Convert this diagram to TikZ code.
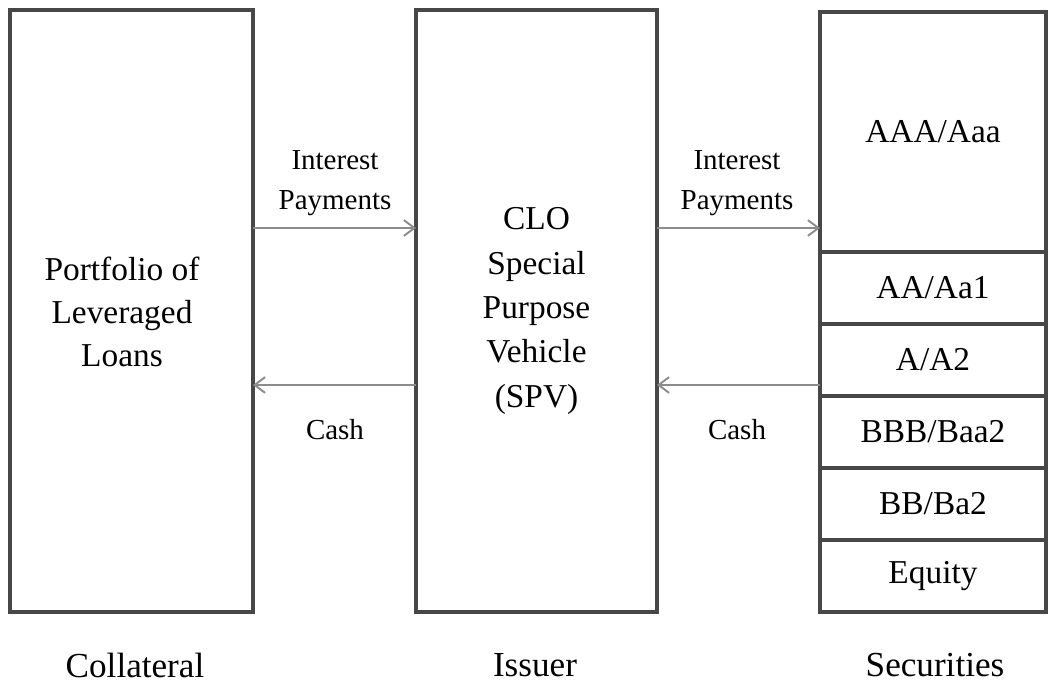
\documentclass[tikz,border=0pt]{standalone}
\usepackage{fontspec}
\setmainfont{Liberation Serif}
\usetikzlibrary{arrows.meta, positioning}

\begin{document}
\begin{tikzpicture}[x=0.02cm, y=-0.02cm,
    box/.style={draw=black!72, line width=2.1pt, outer sep=0pt, align=center, font=\fontsize{19}{24.5}\selectfont},
    tranche/.style={box, minimum width=4.52cm, minimum height=1.44cm, inner sep=0pt},
    flow/.style={draw=black!45, line width=1.1pt, -{Straight Barb[length=6pt, width=9pt]}},
    lbl/.style={align=center, font=\fontsize{16.5}{22.5}\selectfont},
    role/.style={font=\fontsize{20}{24}\selectfont}]
    \useasboundingbox (0,0) rectangle (1049,685);
    % the three blocks
    \node[box, minimum width=4.86cm, minimum height=12.04cm] (coll) at (131.5,311) {};
    \node[align=center, font=\fontsize{19}{24.5}\selectfont] (colltext) at (122,312) {Portfolio of\\Leveraged\\Loans};
    \node[box, minimum width=4.82cm, minimum height=12.04cm, font=\fontsize{19}{25.2}\selectfont] (spv) at (536.5,311) {CLO\\Special\\Purpose\\Vehicle\\(SPV)};
    \node[tranche, minimum height=4.8cm] (aaa) at (933,132) {AAA/Aaa};
    \node[tranche, below=0pt of aaa] (aa) {AA/Aa1};
    \node[tranche, below=0pt of aa] (a) {A/A2};
    \node[tranche, below=0pt of a] (bbb) {BBB/Baa2};
    \node[tranche, below=0pt of bbb] (bb) {BB/Ba2};
    \node[tranche, below=0pt of bb] (eq) {Equity};
    % flows
    \coordinate (top) at (0,228);
    \coordinate (bot) at (0,385);
    \draw[flow] (coll.east |- top) -- (spv.west |- top);
    \draw[flow] (spv.east |- top) -- (aaa.west |- top);
    \draw[flow] (spv.west |- bot) -- (coll.east |- bot);
    \draw[flow] (a.west |- bot) -- (spv.east |- bot);
    \node[lbl] (intl) at (335,183) {Interest\\Payments};
    \node[lbl] (intr) at (737,183) {Interest\\Payments};
    \node[lbl] (cashl) at (335,430) {Cash};
    \node[lbl] (cashr) at (737,430) {Cash};
    % captions
    \node[role] (collcap) at (135,665) {Collateral};
    \node[role] (spvcap) at (535,665) {Issuer};
    \node[role] (seccap) at (935,665) {Securities};
\end{tikzpicture}
\end{document}
